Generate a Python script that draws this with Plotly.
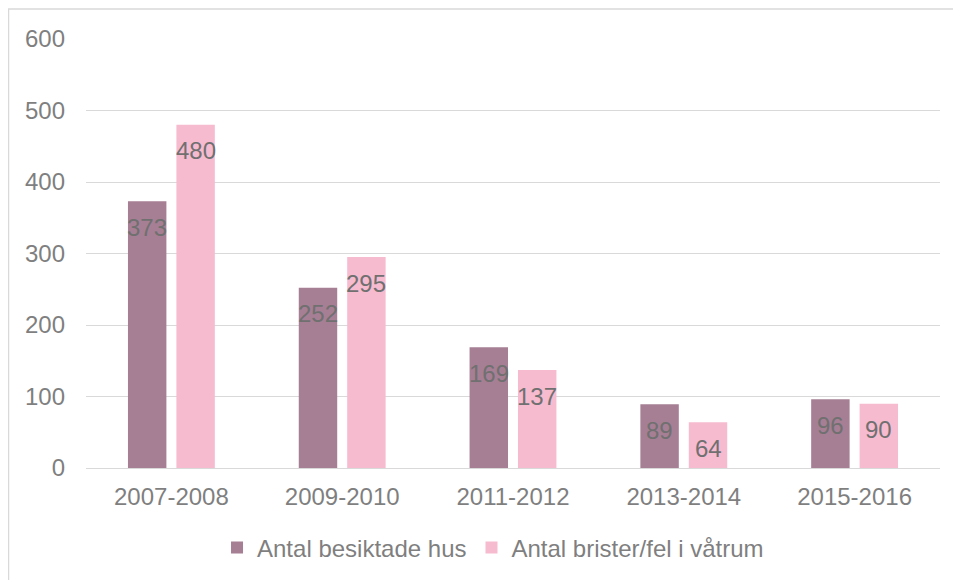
import plotly.graph_objects as go

categories = ["2007-2008", "2009-2010", "2011-2012", "2013-2014", "2015-2016"]
besiktade = [373, 252, 169, 89, 96]
brister = [480, 295, 137, 64, 90]
series_names = ["Antal besiktade hus", "Antal brister/fel i våtrum"]
y_ticks = [0, 100, 200, 300, 400, 500, 600]

colors = ["#A67F95", "#F7BBD0"]
FONT = "Liberation Sans, Arial, sans-serif"
TXT = "#7F7F7F"
FS = 24

fig = go.Figure()
for name, vals, col in zip(series_names, [besiktade, brister], colors):
    fig.add_trace(go.Bar(x=categories, y=vals, name=name, marker_color=col,
                         marker_line_width=0))

annotations = []
for vals, shift in [(besiktade, -24.25), (brister, 24.25)]:
    for c, v in zip(categories, vals):
        annotations.append(dict(x=c, y=v, xref="x", yref="y", text=str(v),
                                showarrow=False, xshift=shift, yshift=-26,
                                yanchor="middle", xanchor="center",
                                font=dict(family=FONT, size=FS, color="#707070")))

fig.update_layout(
    width=961, height=580,
    margin=dict(l=78, r=29, t=31, b=120),
    paper_bgcolor="white", plot_bgcolor="white",
    barmode="group", bargap=0.433, bargroupgap=0.206,
    font=dict(family=FONT, size=FS, color=TXT),
    showlegend=True,
    legend=dict(orientation="h", x=0.4766, xanchor="center", y=-0.1865,
                yanchor="middle", font=dict(family=FONT, size=FS, color=TXT),
                itemwidth=30, traceorder="normal"),
    annotations=annotations,
    shapes=[dict(type="rect", xref="paper", yref="paper",
                 x0=(0.5 - 78) / 854, x1=1.2, y0=-0.5, y1=(460 - 1) / 429,
                 line=dict(color="#D9D9D9", width=1.5), fillcolor="rgba(0,0,0,0)",
                 layer="below")],
)
fig.update_xaxes(showgrid=False, showline=False, zeroline=False, ticks="",
                 tickfont=dict(family=FONT, size=FS, color=TXT),
                 ticklabelstandoff=12)
fig.update_yaxes(range=[0, 600], tickvals=y_ticks, showgrid=True,
                 gridcolor="#D9D9D9", gridwidth=1.3, zeroline=True,
                 zerolinecolor="#D9D9D9", zerolinewidth=1.3, showline=False,
                 ticks="", tickfont=dict(family=FONT, size=FS, color=TXT),
                 ticklabelstandoff=20)

fig.write_html("out.html")
